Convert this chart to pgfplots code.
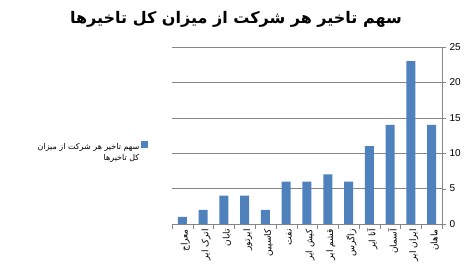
\documentclass[border=0pt]{standalone}
\usepackage{pgfplots}
\pgfplotsset{compat=1.18}
\usepackage{fontspec}
\setmainfont{Liberation Sans}
\newfontfamily\arabicfont[Script=Arabic]{DejaVu Sans}
\TeXXeTstate=1
\definecolor{barblue}{HTML}{4F81BD}
\definecolor{gridgray}{HTML}{868686}
\begin{document}
\begin{tikzpicture}[x=1pt,y=1pt]
\useasboundingbox (0,0) rectangle (472,274);
\node[font=\arabicfont\bfseries\fontsize{16}{18}\selectfont] at (236,255) {\beginR سهم تاخیر هر شرکت از میزان کل تاخیرها\endR};
\begin{axis}[
  at={(172pt,50pt)}, anchor=south west,
  width=270pt, height=177pt, scale only axis,
  xmin=-0.5, xmax=12.5, ymin=0, ymax=25,
  axis x line*=bottom, axis y line*=right,
  axis line style={gridgray,-},
  ytick={0,5,...,25},
  ymajorgrids, grid style={gridgray, line width=0.5pt},
  xtick={0,...,12},
  xticklabels={{\beginR معراج\endR},{\beginR اترک ایر\endR},{\beginR تابان\endR},{\beginR ایرتور\endR},{\beginR کاسپین\endR},{\beginR نفت\endR},{\beginR کیش ایر\endR},{\beginR قشم ایر\endR},{\beginR زاگرس\endR},{\beginR آتا ایر\endR},{\beginR آسمان\endR},{\beginR ایران ایر\endR},{\beginR ماهان\endR}},
  major x tick style={draw=none},
  minor xtick={-0.5,0.5,...,12.5},
  minor x tick style={gridgray},
  y tick style={gridgray},
  tick align=outside,
  major tick length=4pt, minor tick length=5pt,
  xticklabel style={font=\arabicfont\fontsize{9}{10}\selectfont, rotate=90, anchor=east, inner sep=1pt, yshift=-3pt},
  yticklabel style={font=\fontsize{10}{12}\selectfont, anchor=west, xshift=0pt},
  /pgf/number format/assume math mode=true,
  legend style={at={(-0.078,0.49)}, anchor=north east, draw=none, fill=none,
    legend cell align=right, font=\arabicfont\fontsize{8}{11}\selectfont},
  legend plot pos=right,
  legend image code/.code={\fill[barblue] (0pt,-1.5pt) rectangle (6.5pt,5pt);},
]
\addplot[ybar, bar width=9pt, fill=barblue, draw=none] coordinates {
(0,1) (1,2) (2,4) (3,4) (4,2) (5,6) (6,6) (7,7) (8,6) (9,11) (10,14) (11,23) (12,14)};
\addlegendentry{\begin{tabular}[t]{@{}r@{}}\beginR سهم تاخیر هر شرکت از میزان\endR\\\beginR کل تاخیرها\endR\end{tabular}}
\end{axis}
\end{tikzpicture}
\end{document}
